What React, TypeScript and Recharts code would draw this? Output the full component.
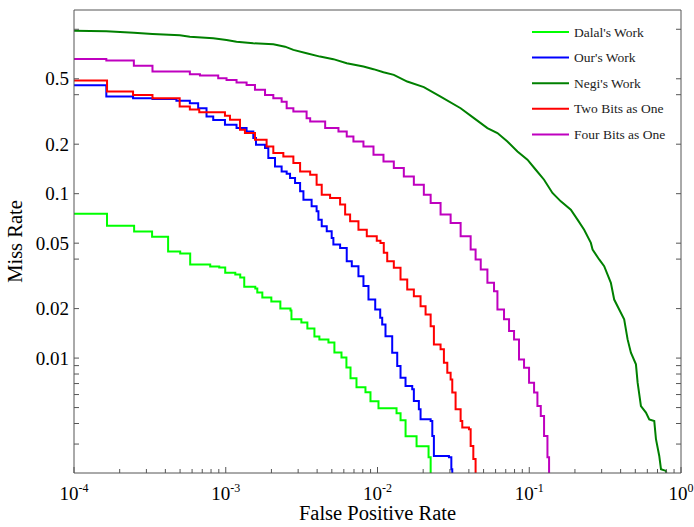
import { LineChart, Line, XAxis, YAxis, Legend } from 'recharts';

// values (false positive rate vs miss rate, log-log)
const dalalFpr = [1e-4, 1.65e-4, 2.49e-4, 3.27e-4, 4.17e-4, 5.01e-4, 5.83e-4, 7.9e-4, 9.06e-4, 9.92e-4, 1.156e-3, 1.246e-3, 1.324e-3, 1.566e-3, 1.614e-3, 1.742e-3, 1.997e-3, 2.29e-3, 2.67e-3, 2.71e-3, 3.15e-3, 3.45e-3, 3.84e-3, 4.14e-3, 4.75e-3, 5.2e-3, 5.79e-3, 6.24e-3, 6.64e-3, 7.27e-3, 8.33e-3, 8.99e-3, 0.01015, 0.01335, 0.01419, 0.01531, 0.01809, 0.0217, 0.0224];
const dalalMiss = [0.0756, 0.0639, 0.0588, 0.0548, 0.0445, 0.0432, 0.0371, 0.0361, 0.0356, 0.0331, 0.0322, 0.0309, 0.0272, 0.0265, 0.0251, 0.0234, 0.0221, 0.02005, 0.0195, 0.0172, 0.01648, 0.01515, 0.01355, 0.01299, 0.01245, 0.01083, 0.0101, 0.00878, 0.00753, 0.00664, 0.00619, 0.00546, 0.00495, 0.00462, 0.00419, 0.00335, 0.00291, 0.00249, 0.002];

const oursFpr = [1e-4, 1.633e-4, 2.45e-4, 3.29e-4, 4.73e-4, 5.8e-4, 6.58e-4, 7.47e-4, 8.27e-4, 9.88e-4, 1.178e-3, 1.372e-3, 1.519e-3, 1.582e-3, 1.815e-3, 1.908e-3, 2.112e-3, 2.335e-3, 2.52e-3, 2.653e-3, 2.862e-3, 3.09e-3, 3.25e-3, 3.68e-3, 3.97e-3, 4.08e-3, 4.29e-3, 4.63e-3, 4.99e-3, 5.12e-3, 5.67e-3, 6.27e-3, 6.77e-3, 7.49e-3, 8.08e-3, 8.72e-3, 9.66e-3, 0.01042, 0.01074, 0.01129, 0.0125, 0.01349, 0.01418, 0.0153, 0.01694, 0.01736, 0.01873, 0.01922, 0.0224, 0.02297, 0.02353, 0.02956, 0.03066, 0.0311];
const oursMiss = [0.457, 0.39, 0.381, 0.376, 0.368, 0.355, 0.331, 0.2945, 0.281, 0.2624, 0.2505, 0.2388, 0.218, 0.1984, 0.1895, 0.1647, 0.1465, 0.1366, 0.1322, 0.1245, 0.1161, 0.1033, 0.0919, 0.0838, 0.0781, 0.0695, 0.0633, 0.059, 0.0538, 0.049, 0.0468, 0.0388, 0.0362, 0.0315, 0.0274, 0.0227, 0.01975, 0.0176, 0.01602, 0.0136, 0.01078, 0.00894, 0.0076, 0.00676, 0.00646, 0.00548, 0.00488, 0.00424, 0.00414, 0.00336, 0.00254, 0.00249, 0.00211, 0.002];

const negiFpr = [1e-4, 1.633e-4, 2.48e-4, 3.29e-4, 4.98e-4, 5.8e-4, 8.27e-4, 1.012e-3, 1.178e-3, 1.519e-3, 2.058e-3, 2.46e-3, 2.79e-3, 3.41e-3, 4.18e-3, 5.12e-3, 6.27e-3, 8.08e-3, 9.41e-3, 0.01095, 0.01281, 0.0157, 0.0202, 0.02604, 0.0353, 0.0432, 0.053, 0.0617, 0.0718, 0.0836, 0.0973, 0.1104, 0.1252, 0.1422, 0.1614, 0.1879, 0.208, 0.23, 0.2547, 0.2614, 0.2889, 0.3117, 0.345, 0.3628, 0.3915, 0.4222, 0.4448, 0.4677, 0.5047, 0.5178, 0.5445, 0.5875, 0.6177, 0.6665, 0.684, 0.719, 0.738, 0.796, 0.8];
const negiMiss = [0.9806, 0.9725, 0.9537, 0.9365, 0.9196, 0.9017, 0.882, 0.861, 0.841, 0.822, 0.811, 0.784, 0.749, 0.715, 0.682, 0.658, 0.622, 0.593, 0.572, 0.548, 0.528, 0.481, 0.4445, 0.39, 0.331, 0.288, 0.2505, 0.2336, 0.2077, 0.1806, 0.1609, 0.1398, 0.1216, 0.101, 0.0898, 0.0799, 0.0695, 0.0604, 0.0502, 0.0457, 0.0398, 0.0362, 0.0287, 0.0227, 0.01975, 0.0172, 0.01299, 0.01078, 0.00916, 0.00709, 0.00511, 0.00466, 0.00424, 0.00414, 0.00321, 0.00254, 0.00211, 0.00206, 0.002];

const twoBitsFpr = [1e-4, 1.651e-4, 2.45e-4, 3.29e-4, 4.97e-4, 5.8e-4, 6.69e-4, 9.88e-4, 1.066e-3, 1.241e-3, 1.338e-3, 1.558e-3, 1.859e-3, 2.058e-3, 2.396e-3, 2.79e-3, 3.09e-3, 3.6e-3, 3.97e-3, 4.29e-3, 4.87e-3, 5.67e-3, 6.12e-3, 6.6e-3, 7.49e-3, 8.5e-3, 9.89e-3, 0.01046, 0.011, 0.01159, 0.01281, 0.01418, 0.0157, 0.01736, 0.01922, 0.02074, 0.0224, 0.02353, 0.02604, 0.02739, 0.02884, 0.03033, 0.0311, 0.0327, 0.0353, 0.0362, 0.04006, 0.0411, 0.0428, 0.0443];
const twoBitsMiss = [0.4875, 0.418, 0.399, 0.381, 0.339, 0.325, 0.3133, 0.2976, 0.2813, 0.2446, 0.2336, 0.2128, 0.1937, 0.1767, 0.1685, 0.1536, 0.1366, 0.1304, 0.1134, 0.0986, 0.0942, 0.0858, 0.0746, 0.0679, 0.0604, 0.055, 0.0518, 0.0502, 0.0437, 0.0388, 0.0354, 0.03004, 0.0261, 0.0238, 0.0207, 0.01842, 0.01564, 0.0121, 0.0113, 0.00938, 0.00815, 0.00742, 0.00617, 0.00488, 0.00414, 0.00378, 0.00369, 0.00292, 0.00243, 0.002];

const fourBitsFpr = [1e-4, 1.633e-4, 2.48e-4, 3.29e-4, 5.8e-4, 6.76e-4, 8.92e-4, 1.012e-3, 1.178e-3, 1.372e-3, 1.558e-3, 1.815e-3, 2.058e-3, 2.335e-3, 2.52e-3, 2.79e-3, 3.41e-3, 3.6e-3, 4.52e-3, 5.53e-3, 6.27e-3, 6.94e-3, 8.08e-3, 9.41e-3, 0.01095, 0.01281, 0.01491, 0.01736, 0.0202, 0.0224, 0.02604, 0.03033, 0.0353, 0.0411, 0.0443, 0.0479, 0.053, 0.0586, 0.0617, 0.0682, 0.0736, 0.0794, 0.0856, 0.0924, 0.0997, 0.1076, 0.1132, 0.1191, 0.1252, 0.1318, 0.1351];
const fourBitsMiss = [0.66, 0.645, 0.601, 0.553, 0.533, 0.523, 0.504, 0.492, 0.474, 0.459, 0.428, 0.399, 0.381, 0.363, 0.331, 0.316, 0.288, 0.2748, 0.2505, 0.2388, 0.2228, 0.2077, 0.1937, 0.1725, 0.157, 0.1432, 0.1274, 0.1134, 0.0986, 0.0878, 0.0746, 0.0664, 0.055, 0.0457, 0.0398, 0.0346, 0.0287, 0.0255, 0.01975, 0.0172, 0.01459, 0.01299, 0.00982, 0.00874, 0.00709, 0.00617, 0.00511, 0.00444, 0.00336, 0.00249, 0.002];

const seriesNames = ["Dalal's Work", "Our's Work", "Negi's Work", 'Two Bits as One', 'Four Bits as One'];
const seriesColors = ['#00ff00', '#0000ff', '#008000', '#ff0000', '#bf00bf'];

const xMajorTicks = [1e-4, 1e-3, 1e-2, 1e-1, 1];
const xTickExponents = ['-4', '-3', '-2', '-1', '0'];
const xMinorSteps = [2, 3, 4, 5, 6, 7, 8, 9];
const yTicks = [1, 0.5, 0.4, 0.2, 0.1, 0.05, 0.04, 0.02, 0.01, 0.009, 0.008, 0.007, 0.006, 0.005, 0.004, 0.003];
const yLabelTicks = [0.5, 0.2, 0.1, 0.05, 0.02, 0.01];
const yTickLabels = ['0.5', '0.2', '0.1', '0.05', '0.02', '0.01'];

const zip = (fpr: number[], miss: number[]) => fpr.map((f, i) => ({ fpr: f, miss: miss[i] }));
const seriesData = [
  zip(dalalFpr, dalalMiss),
  zip(oursFpr, oursMiss),
  zip(negiFpr, negiMiss),
  zip(twoBitsFpr, twoBitsMiss),
  zip(fourBitsFpr, fourBitsMiss),
];

const xTicks = [
  ...xMajorTicks,
  ...xMajorTicks.slice(0, -1).flatMap((d) => xMinorSteps.map((m) => m * d)),
];

const FONT = 'Liberation Serif, Times New Roman, serif';
const AXIS = '#555';

function BottomTick(props: any) {
  const { x, y, payload } = props;
  const idx = xMajorTicks.indexOf(payload.value);
  const len = idx >= 0 ? 6 : 4;
  return (
    <g>
      <line x1={x} x2={x} y1={y} y2={y - len} stroke={AXIS} />
      {idx >= 0 && (
        <text x={x} y={y + 27} textAnchor="middle" fontFamily={FONT} fontSize={19} fill="#000">
          10
          <tspan dy={-8} fontSize={12}>{xTickExponents[idx]}</tspan>
        </text>
      )}
    </g>
  );
}

function TopTick(props: any) {
  const { x, y, payload } = props;
  const len = xMajorTicks.includes(payload.value) ? 6 : 4;
  return <line x1={x} x2={x} y1={y} y2={y + len} stroke={AXIS} />;
}

function LeftTick(props: any) {
  const { x, y, payload } = props;
  const idx = yLabelTicks.indexOf(payload.value);
  return (
    <g>
      <line x1={x} x2={x + 5} y1={y} y2={y} stroke={AXIS} />
      {idx >= 0 && (
        <text x={x - 5} y={y} textAnchor="end" dominantBaseline="central" fontFamily={FONT} fontSize={19} fill="#000">
          {yTickLabels[idx]}
        </text>
      )}
    </g>
  );
}

function RightTick(props: any) {
  const { x, y } = props;
  return <line x1={x} x2={x - 5} y1={y} y2={y} stroke={AXIS} />;
}

const renderLegend = () => (
  <svg width={160} height={132}>
    {seriesNames.map((name, i) => (
      <g key={name} transform={`translate(0, ${i * 25.6})`}>
        <line x1={7} x2={44} y1={14} y2={14} stroke={seriesColors[i]} strokeWidth={2} />
        <text x={49} y={14} dominantBaseline="central" fontFamily={FONT} fontSize={13.5} fill="#222">
          {name}
        </text>
      </g>
    ))}
  </svg>
);

export default function App() {
  return (
    <div style={{ position: 'absolute', left: 0, top: 0, background: '#fff' }}>
      <LineChart width={694} height={527} margin={{ top: 0, right: 0, bottom: 0, left: 0 }}>
        <XAxis
          xAxisId="b"
          dataKey="fpr"
          type="number"
          scale="log"
          domain={[1e-4, 1]}
          allowDataOverflow
          ticks={xTicks}
          interval={0}
          height={54}
          tickSize={0}
          tickMargin={0}
          tickLine={false}
          axisLine={{ stroke: AXIS }}
          tick={<BottomTick />}
          label={{ value: 'False Positive Rate', position: 'insideBottom', offset: 7, fontFamily: FONT, fontSize: 20.5, fill: '#000' }}
        />
        <XAxis
          xAxisId="t"
          orientation="top"
          type="number"
          scale="log"
          domain={[1e-4, 1]}
          allowDataOverflow
          ticks={xTicks}
          interval={0}
          height={10}
          tickSize={0}
          tickMargin={0}
          tickLine={false}
          axisLine={{ stroke: AXIS }}
          tick={<TopTick />}
        />
        <YAxis
          yAxisId="l"
          type="number"
          scale="log"
          domain={[0.002, 1.31]}
          allowDataOverflow
          ticks={yTicks}
          interval={0}
          width={74}
          tickSize={0}
          tickMargin={0}
          tickLine={false}
          axisLine={{ stroke: AXIS }}
          tick={<LeftTick />}
          label={{ value: 'Miss Rate', angle: -90, position: 'insideLeft', offset: 15, fontFamily: FONT, fontSize: 20.5, fill: '#000', style: { textAnchor: 'middle' } }}
        />
        <YAxis
          yAxisId="r"
          orientation="right"
          type="number"
          scale="log"
          domain={[0.002, 1.31]}
          allowDataOverflow
          ticks={yTicks}
          interval={0}
          width={13}
          tickSize={0}
          tickMargin={0}
          tickLine={false}
          axisLine={{ stroke: AXIS }}
          tick={<RightTick />}
        />
        <Legend
          layout="horizontal"
          align="center"
          verticalAlign="middle"
          content={renderLegend}
          wrapperStyle={{ left: 525, top: 18, width: 160, height: 132 }}
        />
        {seriesData.map((data, i) => (
          <Line
            key={seriesNames[i]}
            xAxisId="b"
            yAxisId="l"
            data={data}
            dataKey="miss"
            name={seriesNames[i]}
            type={i === 2 ? 'linear' : 'stepAfter'}
            stroke={seriesColors[i]}
            strokeWidth={2}
            dot={false}
            activeDot={false}
            isAnimationActive={false}
          />
        ))}
      </LineChart>
    </div>
  );
}
